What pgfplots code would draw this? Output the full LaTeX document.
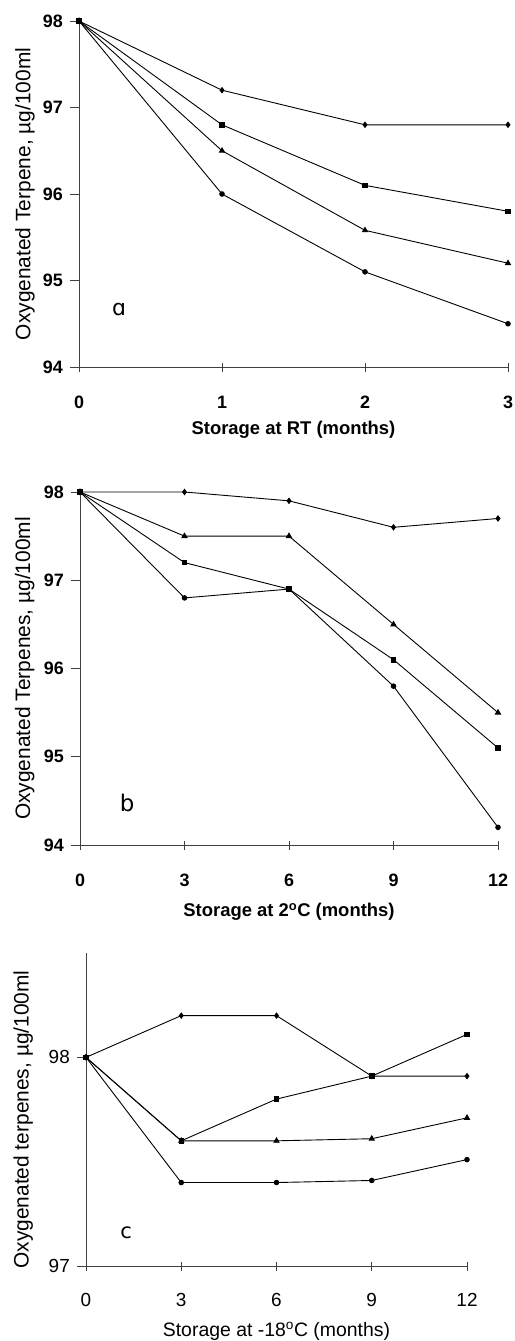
\documentclass[border=0pt]{standalone}
\usepackage{pgfplots}
\pgfplotsset{compat=1.18}
\usepackage{fontspec}
\setmainfont{Liberation Sans}
\newfontfamily\lettfont{DejaVu Sans}
\begin{document}
\begin{tikzpicture}
\path[use as bounding box] (0bp,0bp) rectangle (515bp,-1341bp);
\pgfplotsset{
  panel/.style={
    scale only axis,
    anchor=south west,
    axis lines=left,
    axis line style={-, line width=0.6pt, black!75},
    tick style={black!75, line width=0.6pt},
    xtick align=center, ytick align=outside,
    major tick length=9bp,
    /pgf/number format/assume math mode=true,
    clip=false,
    every axis plot/.append style={line width=0.9pt, black},
  },
  pa/.style={
    yticklabel style={anchor=east, inner sep=0pt, xshift=-7bp, font=\fontsize{18}{20}\selectfont\bfseries},
    xticklabel style={anchor=center, inner sep=0pt, yshift=-31bp, font=\fontsize{18}{20}\selectfont\bfseries},
  },
}
% ---------- panel a ----------
\begin{axis}[panel, pa,
  at={(79bp,-367bp)}, width=429bp, height=346bp,
  xmin=0, xmax=3, ymin=94, ymax=98,
  xtick={0,1,2,3}, ytick={94,95,96,97,98},
  ylabel={Oxygenated Terpene, µg/100ml},
  ylabel style={at={(axis description cs:-0.126,0.5)}, anchor=center, font=\fontsize{21}{24}\selectfont},
  xlabel={Storage at RT (months)},
  xlabel style={at={(axis description cs:0.5,-0.182)}, anchor=center, font=\fontsize{18.5}{22}\selectfont\bfseries},
]
\addplot[mark=diamond*, mark size=2.6bp] coordinates {(0,98) (1,97.2) (2,96.8) (3,96.8)};
\addplot[mark=square*, mark size=2.3bp] coordinates {(0,98) (1,96.8) (2,96.1) (3,95.8)};
\addplot[mark=triangle*, mark size=2.9bp] coordinates {(0,98) (1,96.5) (2,95.58) (3,95.2)};
\addplot[mark=*, mark size=2.3bp] coordinates {(0,98) (1,96.0) (2,95.1) (3,94.5)};
\node[font=\lettfont\fontsize{22}{24}\selectfont] at (axis cs:0.28,94.66) {ɑ};
\end{axis}
% ---------- panel b ----------
\begin{axis}[panel, pa,
  at={(80bp,-845bp)}, width=418bp, height=353bp,
  xmin=0, xmax=12, ymin=94, ymax=98,
  xtick={0,3,6,9,12}, ytick={94,95,96,97,98},
  ylabel={Oxygenated Terpenes, µg/100ml},
  ylabel style={at={(axis description cs:-0.132,0.5)}, anchor=center, font=\fontsize{21}{24}\selectfont},
  xlabel={Storage at 2\textsuperscript{o}C (months)},
  xlabel style={at={(axis description cs:0.5,-0.19)}, anchor=center, font=\fontsize{18.5}{22}\selectfont\bfseries},
]
\addplot[mark=diamond*, mark size=2.6bp] coordinates {(0,98) (3,98) (6,97.9) (9,97.6) (12,97.7)};
\addplot[mark=triangle*, mark size=2.9bp] coordinates {(0,98) (3,97.5) (6,97.5) (9,96.5) (12,95.5)};
\addplot[mark=square*, mark size=2.3bp] coordinates {(0,98) (3,97.2) (6,96.9) (9,96.1) (12,95.1)};
\addplot[mark=*, mark size=2.3bp] coordinates {(0,98) (3,96.8) (6,96.9) (9,95.8) (12,94.2)};
\node[font=\lettfont\fontsize{23}{25}\selectfont] at (axis cs:1.35,94.48) {b};
\end{axis}
% ---------- panel c ----------
\begin{axis}[panel,
  at={(86bp,-1266bp)}, width=381bp, height=313bp,
  xmin=0, xmax=12, ymin=97, ymax=98.5,
  xtick={0,3,6,9,12}, ytick={97,98},
  yticklabel style={anchor=east, inner sep=0pt, xshift=-7bp, font=\fontsize{19}{21}\selectfont},
  xticklabel style={anchor=center, inner sep=0pt, yshift=-29bp, font=\fontsize{19}{21}\selectfont},
  ylabel={Oxygenated terpenes, µg/100ml},
  ylabel style={at={(axis description cs:-0.165,0.468)}, anchor=center, font=\fontsize{21}{24}\selectfont},
  xlabel={Storage at -18\textsuperscript{o}C (months)},
  xlabel style={at={(axis description cs:0.5,-0.208)}, anchor=center, font=\fontsize{19.5}{22}\selectfont},
]
\addplot[mark=diamond*, mark size=2.6bp] coordinates {(0,98) (3,98.2) (6,98.2) (9,97.91) (12,97.91)};
\addplot[mark=square*, mark size=2.3bp] coordinates {(0,98) (3,97.6) (6,97.8) (9,97.91) (12,98.11)};
\addplot[mark=triangle*, mark size=2.9bp] coordinates {(0,98) (3,97.6) (6,97.6) (9,97.61) (12,97.71)};
\addplot[mark=*, mark size=2.3bp] coordinates {(0,98) (3,97.4) (6,97.4) (9,97.41) (12,97.51)};
\node[font=\lettfont\fontsize{21}{23}\selectfont] at (axis cs:1.26,97.16) {c};
\end{axis}
\end{tikzpicture}
\end{document}
